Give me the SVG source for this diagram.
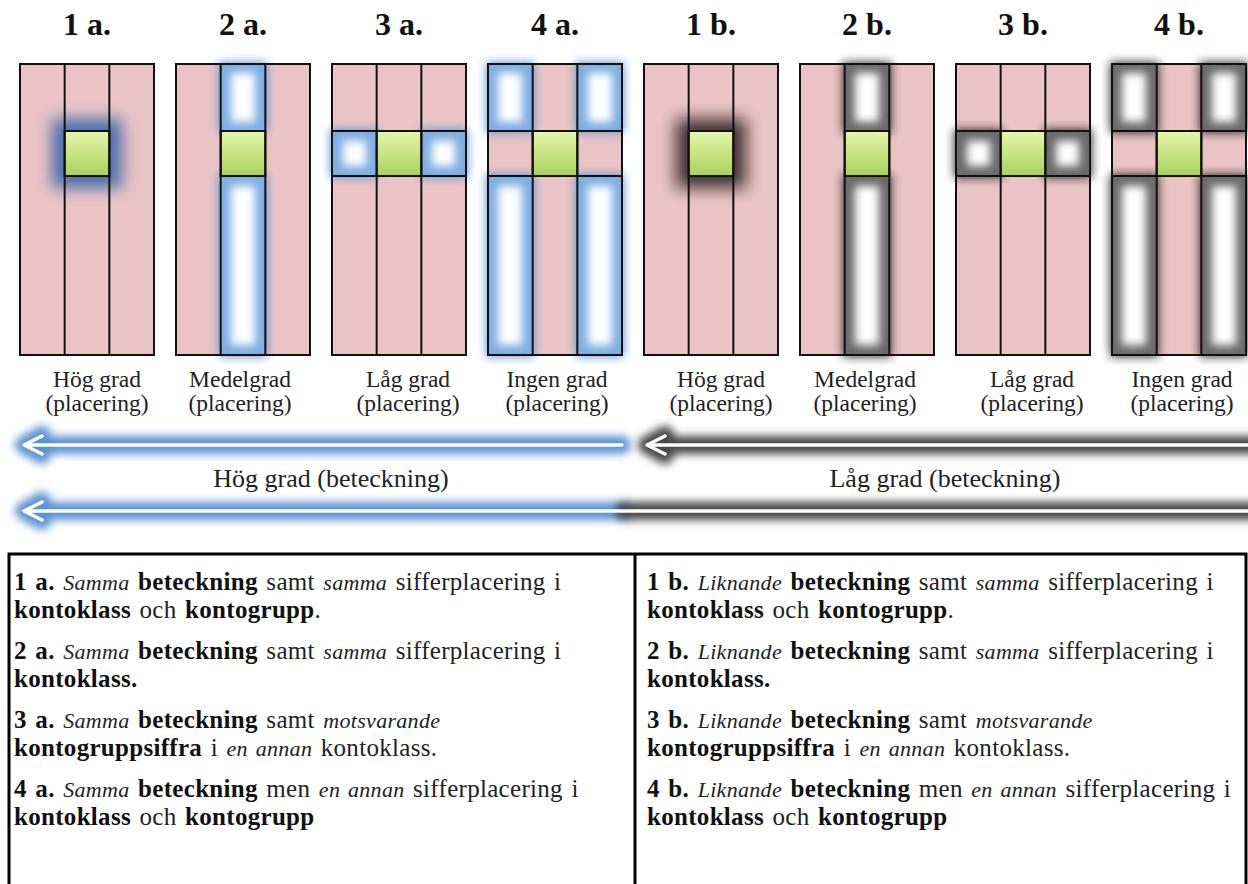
<svg xmlns="http://www.w3.org/2000/svg" width="1248" height="884" viewBox="0 0 1248 884">
<style>
.pink{fill:#eac4c4}
.grid{fill:none;stroke:#111;stroke-width:2}
.ln{stroke:#111;stroke-width:2}
.gB{fill:#5b93d3;opacity:.9;filter:url(#fOut)}
.gK{fill:#1e1e1e;opacity:.85;filter:url(#fOut)}
.cB{fill:#7eaee2}
.cK{fill:#6a6a6a}
.wh{fill:#fff;filter:url(#fIn)}
.green{fill:url(#gg);stroke:#111;stroke-width:2}
.title{font-family:"Liberation Serif","Times New Roman",serif;font-weight:bold;font-size:32px;fill:#111;text-anchor:middle}
.lbl{font-family:"Liberation Serif","Times New Roman",serif;font-size:23.5px;fill:#222;text-anchor:middle}
.atx{font-family:"Liberation Serif","Times New Roman",serif;font-size:26px;fill:#222;text-anchor:middle}
.t{font-family:"Liberation Serif","Times New Roman",serif;font-size:25px;fill:#222;word-spacing:2px;letter-spacing:0.3px}
.b{font-weight:bold;fill:#111}
.i{font-style:italic;font-size:22px}
.wl{stroke:#fff;stroke-width:3.5;fill:none;stroke-linecap:round;stroke-linejoin:round}
.agB{stroke:#5b93d3;fill:none;stroke-width:18;filter:url(#fA);stroke-linecap:round;stroke-linejoin:round}
.agK{stroke:#474747;fill:none;stroke-width:18;filter:url(#fA);stroke-linecap:round;stroke-linejoin:round}
</style>
<defs>
<filter id="fOut" filterUnits="userSpaceOnUse" x="0" y="0" width="1248" height="884"><feGaussianBlur stdDeviation="5"/></filter>
<filter id="fBig" filterUnits="userSpaceOnUse" x="0" y="0" width="1248" height="884"><feGaussianBlur stdDeviation="8"/></filter>
<filter id="fIn" filterUnits="userSpaceOnUse" x="0" y="0" width="1248" height="884"><feGaussianBlur stdDeviation="4"/></filter>
<filter id="fA" filterUnits="userSpaceOnUse" x="0" y="0" width="1248" height="884"><feGaussianBlur stdDeviation="4"/></filter>
<linearGradient id="gg" x1="0" y1="0" x2="0" y2="1"><stop offset="0" stop-color="#e4f7ab"/><stop offset="1" stop-color="#a9d15a"/></linearGradient>
</defs>
<rect width="1248" height="884" fill="#fff"/>

<!-- 1a -->
<g id="p1a">
<text class="title" x="87" y="35">1 a.</text>
<rect class="pink" x="20" y="64" width="134" height="291"/>
<rect x="52" y="119" width="70" height="69" fill="#2f5fa8" opacity=".85" filter="url(#fBig)"/>
<rect class="green" x="64.67" y="131" width="44.67" height="45"/>
<rect class="grid" x="20" y="64" width="134" height="291"/>
<line class="ln" x1="64.67" y1="64" x2="64.67" y2="355"/><line class="ln" x1="109.33" y1="64" x2="109.33" y2="355"/>
<text class="lbl" x="97" y="387">Hög grad</text><text class="lbl" x="97" y="411">(placering)</text>
</g>

<!-- 2a -->
<g id="p2a">
<text class="title" x="243" y="35">2 a.</text>
<rect class="pink" x="176" y="64" width="134" height="291"/>
<rect class="gB" x="218.67" y="62" width="48.67" height="71"/>
<rect class="gB" x="218.67" y="174" width="48.67" height="183"/>
<rect class="cB" x="220.67" y="64" width="44.67" height="67"/>
<rect class="wh" x="231" y="73" width="24" height="49"/>
<rect class="cB" x="220.67" y="176" width="44.67" height="179"/>
<rect class="wh" x="231" y="186" width="24" height="159"/>
<rect class="green" x="220.67" y="131" width="44.67" height="45"/>
<rect class="grid" x="176" y="64" width="134" height="291"/>
<line class="ln" x1="220.67" y1="64" x2="220.67" y2="355"/><line class="ln" x1="265.33" y1="64" x2="265.33" y2="355"/>
<text class="lbl" x="240" y="387">Medelgrad</text><text class="lbl" x="240" y="411">(placering)</text>
</g>

<!-- 3a -->
<g id="p3a">
<text class="title" x="399" y="35">3 a.</text>
<rect class="pink" x="332" y="64" width="134" height="291"/>
<rect class="gB" x="330" y="129" width="48.67" height="49"/>
<rect class="gB" x="419.33" y="129" width="48.67" height="49"/>
<rect class="cB" x="332" y="131" width="44.67" height="45"/>
<rect class="wh" x="343" y="141" width="23" height="25"/>
<rect class="cB" x="421.33" y="131" width="44.67" height="45"/>
<rect class="wh" x="432" y="141" width="23" height="25"/>
<rect class="green" x="376.67" y="131" width="44.67" height="45"/>
<rect class="grid" x="332" y="64" width="134" height="291"/>
<line class="ln" x1="376.67" y1="64" x2="376.67" y2="355"/><line class="ln" x1="421.33" y1="64" x2="421.33" y2="355"/>
<line class="ln" x1="332" y1="131" x2="466" y2="131"/><line class="ln" x1="332" y1="176" x2="466" y2="176"/>
<text class="lbl" x="408" y="387">Låg grad</text><text class="lbl" x="408" y="411">(placering)</text>
</g>

<!-- 4a -->
<g id="p4a">
<text class="title" x="555" y="35">4 a.</text>
<rect class="pink" x="488" y="64" width="134" height="291"/>
<rect class="gB" x="486" y="62" width="48.67" height="71"/>
<rect class="gB" x="575.33" y="62" width="48.67" height="71"/>
<rect class="gB" x="486" y="174" width="48.67" height="183"/>
<rect class="gB" x="575.33" y="174" width="48.67" height="183"/>
<rect class="cB" x="488" y="64" width="44.67" height="67"/>
<rect class="wh" x="498" y="73" width="24" height="49"/>
<rect class="cB" x="577.33" y="64" width="44.67" height="67"/>
<rect class="wh" x="588" y="73" width="24" height="49"/>
<rect class="cB" x="488" y="176" width="44.67" height="179"/>
<rect class="wh" x="498" y="186" width="24" height="159"/>
<rect class="cB" x="577.33" y="176" width="44.67" height="179"/>
<rect class="wh" x="588" y="186" width="24" height="159"/>
<rect class="green" x="532.67" y="131" width="44.67" height="45"/>
<rect class="grid" x="488" y="64" width="134" height="291"/>
<line class="ln" x1="532.67" y1="64" x2="532.67" y2="355"/><line class="ln" x1="577.33" y1="64" x2="577.33" y2="355"/>
<line class="ln" x1="488" y1="131" x2="622" y2="131"/><line class="ln" x1="488" y1="176" x2="622" y2="176"/>
<text class="lbl" x="557" y="387">Ingen grad</text><text class="lbl" x="557" y="411">(placering)</text>
</g>

<!-- 1b -->
<g id="p1b">
<text class="title" x="711" y="35">1 b.</text>
<rect class="pink" x="644" y="64" width="134" height="291"/>
<rect x="676" y="119" width="70" height="69" fill="#150b0b" opacity=".8" filter="url(#fBig)"/>
<rect class="green" x="688.67" y="131" width="44.67" height="45"/>
<rect class="grid" x="644" y="64" width="134" height="291"/>
<line class="ln" x1="688.67" y1="64" x2="688.67" y2="355"/><line class="ln" x1="733.33" y1="64" x2="733.33" y2="355"/>
<text class="lbl" x="721" y="387">Hög grad</text><text class="lbl" x="721" y="411">(placering)</text>
</g>

<!-- 2b -->
<g id="p2b">
<text class="title" x="867" y="35">2 b.</text>
<rect class="pink" x="800" y="64" width="134" height="291"/>
<rect class="gK" x="842.67" y="62" width="48.67" height="71"/>
<rect class="gK" x="842.67" y="174" width="48.67" height="183"/>
<rect class="cK" x="844.67" y="64" width="44.67" height="67"/>
<rect class="wh" x="855" y="73" width="24" height="49"/>
<rect class="cK" x="844.67" y="176" width="44.67" height="179"/>
<rect class="wh" x="855" y="186" width="24" height="159"/>
<rect class="green" x="844.67" y="131" width="44.67" height="45"/>
<rect class="grid" x="800" y="64" width="134" height="291"/>
<line class="ln" x1="844.67" y1="64" x2="844.67" y2="355"/><line class="ln" x1="889.33" y1="64" x2="889.33" y2="355"/>
<text class="lbl" x="865" y="387">Medelgrad</text><text class="lbl" x="865" y="411">(placering)</text>
</g>

<!-- 3b -->
<g id="p3b">
<text class="title" x="1023" y="35">3 b.</text>
<rect class="pink" x="956" y="64" width="134" height="291"/>
<rect class="gK" x="954" y="129" width="48.67" height="49"/>
<rect class="gK" x="1043.33" y="129" width="48.67" height="49"/>
<rect class="cK" x="956" y="131" width="44.67" height="45"/>
<rect class="wh" x="967" y="141" width="23" height="25"/>
<rect class="cK" x="1045.33" y="131" width="44.67" height="45"/>
<rect class="wh" x="1056" y="141" width="23" height="25"/>
<rect class="green" x="1000.67" y="131" width="44.67" height="45"/>
<rect class="grid" x="956" y="64" width="134" height="291"/>
<line class="ln" x1="1000.67" y1="64" x2="1000.67" y2="355"/><line class="ln" x1="1045.33" y1="64" x2="1045.33" y2="355"/>
<line class="ln" x1="956" y1="131" x2="1090" y2="131"/><line class="ln" x1="956" y1="176" x2="1090" y2="176"/>
<text class="lbl" x="1032" y="387">Låg grad</text><text class="lbl" x="1032" y="411">(placering)</text>
</g>

<!-- 4b -->
<g id="p4b">
<text class="title" x="1179" y="35">4 b.</text>
<rect class="pink" x="1112" y="64" width="134" height="291"/>
<rect class="gK" x="1110" y="62" width="48.67" height="71"/>
<rect class="gK" x="1199.33" y="62" width="48.67" height="71"/>
<rect class="gK" x="1110" y="174" width="48.67" height="183"/>
<rect class="gK" x="1199.33" y="174" width="48.67" height="183"/>
<rect class="cK" x="1112" y="64" width="44.67" height="67"/>
<rect class="wh" x="1122" y="73" width="24" height="49"/>
<rect class="cK" x="1201.33" y="64" width="44.67" height="67"/>
<rect class="wh" x="1212" y="73" width="24" height="49"/>
<rect class="cK" x="1112" y="176" width="44.67" height="179"/>
<rect class="wh" x="1122" y="186" width="24" height="159"/>
<rect class="cK" x="1201.33" y="176" width="44.67" height="179"/>
<rect class="wh" x="1212" y="186" width="24" height="159"/>
<rect class="green" x="1156.67" y="131" width="44.67" height="45"/>
<rect class="grid" x="1112" y="64" width="134" height="291"/>
<line class="ln" x1="1156.67" y1="64" x2="1156.67" y2="355"/><line class="ln" x1="1201.33" y1="64" x2="1201.33" y2="355"/>
<line class="ln" x1="1112" y1="131" x2="1246" y2="131"/><line class="ln" x1="1112" y1="176" x2="1246" y2="176"/>
<text class="lbl" x="1182" y="387">Ingen grad</text><text class="lbl" x="1182" y="411">(placering)</text>
</g>

<!-- connectors: arrows -->
<g id="arrows">
<path class="agB" d="M24 445 H622 M42 435 L24 445 L42 455"/>
<path class="agK" d="M647 445 H1262 M665 435 L647 445 L665 455"/>
<path class="agB" d="M24 511 H622 M42 501 L24 511 L42 521"/>
<path class="agK" d="M624 511 H1262"/>
<path class="wl" d="M24 445 H622 M42 436 L24 445 L42 454"/>
<path class="wl" d="M647 445 H1250 M665 436 L647 445 L665 454"/>
<path class="wl" d="M24 511 H1250 M42 502 L24 511 L42 520"/>
<text class="atx" x="331" y="487">Hög grad (beteckning)</text>
<text class="atx" x="945" y="487">Låg grad (beteckning)</text>
</g>

<!-- table -->
<g id="table">
<rect x="9" y="554" width="1237" height="340" fill="none" stroke="#000" stroke-width="3"/>
<line x1="635" y1="554" x2="635" y2="884" stroke="#000" stroke-width="3"/>
<text class="t" x="14" y="590"><tspan class="b">1 a.</tspan> <tspan class="i">Samma</tspan> <tspan class="b">beteckning</tspan> samt <tspan class="i">samma</tspan> sifferplacering i</text>
<text class="t" x="14" y="618"><tspan class="b">kontoklass</tspan> och <tspan class="b">kontogrupp</tspan>.</text>
<text class="t" x="14" y="659"><tspan class="b">2 a.</tspan> <tspan class="i">Samma</tspan> <tspan class="b">beteckning</tspan> samt <tspan class="i">samma</tspan> sifferplacering i</text>
<text class="t" x="14" y="687"><tspan class="b">kontoklass.</tspan></text>
<text class="t" x="14" y="728"><tspan class="b">3 a.</tspan> <tspan class="i">Samma</tspan> <tspan class="b">beteckning</tspan> samt <tspan class="i">motsvarande</tspan></text>
<text class="t" x="14" y="756"><tspan class="b">kontogruppsiffra</tspan> i <tspan class="i">en annan</tspan> kontoklass.</text>
<text class="t" x="14" y="797"><tspan class="b">4 a.</tspan> <tspan class="i">Samma</tspan> <tspan class="b">beteckning</tspan> men <tspan class="i">en annan</tspan> sifferplacering i</text>
<text class="t" x="14" y="825"><tspan class="b">kontoklass</tspan> och <tspan class="b">kontogrupp</tspan></text>
<text class="t" x="647" y="590"><tspan class="b">1 b.</tspan> <tspan class="i">Liknande</tspan> <tspan class="b">beteckning</tspan> samt <tspan class="i">samma</tspan> sifferplacering i</text>
<text class="t" x="647" y="618"><tspan class="b">kontoklass</tspan> och <tspan class="b">kontogrupp</tspan>.</text>
<text class="t" x="647" y="659"><tspan class="b">2 b.</tspan> <tspan class="i">Liknande</tspan> <tspan class="b">beteckning</tspan> samt <tspan class="i">samma</tspan> sifferplacering i</text>
<text class="t" x="647" y="687"><tspan class="b">kontoklass.</tspan></text>
<text class="t" x="647" y="728"><tspan class="b">3 b.</tspan> <tspan class="i">Liknande</tspan> <tspan class="b">beteckning</tspan> samt <tspan class="i">motsvarande</tspan></text>
<text class="t" x="647" y="756"><tspan class="b">kontogruppsiffra</tspan> i <tspan class="i">en annan</tspan> kontoklass.</text>
<text class="t" x="647" y="797"><tspan class="b">4 b.</tspan> <tspan class="i">Liknande</tspan> <tspan class="b">beteckning</tspan> men <tspan class="i">en annan</tspan> sifferplacering i</text>
<text class="t" x="647" y="825"><tspan class="b">kontoklass</tspan> och <tspan class="b">kontogrupp</tspan></text>
</g>
</svg>
